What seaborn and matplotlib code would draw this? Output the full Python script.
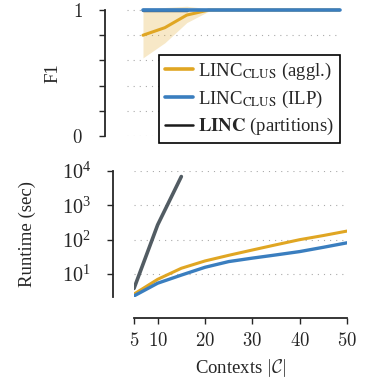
import numpy as np
import pandas as pd
import matplotlib
matplotlib.use("Agg")
import matplotlib.pyplot as plt
import seaborn as sns
from matplotlib.lines import Line2D

# data
contexts = [5, 10, 15, 20, 25, 30, 35, 40, 45, 50]
partition_contexts = [5, 10, 15]

f1_aggl = [0.80, 0.86, 0.96, 1.0, 1.0, 1.0, 1.0, 1.0, 1.0, 1.0]
f1_aggl_lo = [0.62, 0.74, 0.90, 0.99, 1.0, 1.0, 1.0, 1.0, 1.0, 1.0]
f1_aggl_hi = [1.0, 1.02, 1.03, 1.01, 1.0, 1.0, 1.0, 1.0, 1.0, 1.0]
f1_ilp = [1.0] * 10
f1_part = [1.0, 1.0, 1.0]

rt_aggl = [2.6, 7.0, 14.7, 24, 35, 50, 71, 100, 132, 178]
rt_ilp = [2.3, 5.4, 9.3, 15.7, 23, 29, 36, 45, 60, 81]
rt_part = [3.8, 270, 6900]

x_ticks = [5, 10, 20, 30, 40, 50]
f1_ticks = [0, 0.2, 0.4, 0.6, 0.8, 1.0]
f1_tick_labels = ["$0$", "", "", "", "", "$1$"]

c_aggl = "#E0A623"
c_ilp = "#3A7EBF"
c_part = "#525C63"

sns.set_style("ticks")
plt.rcParams["font.family"] = ["Liberation Serif", "DejaVu Serif"]
plt.rcParams["mathtext.fontset"] = "stix"
plt.rcParams["font.size"] = 13

W, H = 365, 382
fig = plt.figure(figsize=(W / 100, H / 100), dpi=100)


def px_axes(left, right, top, bottom):
    return fig.add_axes([left / W, 1 - bottom / H, (right - left) / W, (bottom - top) / H])


grid_kw = dict(ls=(0, (1, 4.5)), color="#aaaaaa", lw=0.8)

# ---- F1 panel
ax1 = px_axes(127, 340, 5, 136)
df_f1 = pd.DataFrame({"x": contexts, "aggl": f1_aggl, "ilp": f1_ilp})
ax1.fill_between(contexts, f1_aggl_lo, f1_aggl_hi, color=c_aggl, alpha=0.25, lw=0)
sns.lineplot(x=partition_contexts, y=f1_part, ax=ax1, color=c_part, lw=2.5)
sns.lineplot(data=df_f1, x="x", y="aggl", ax=ax1, color=c_aggl, lw=2.2)
sns.lineplot(data=df_f1, x="x", y="ilp", ax=ax1, color=c_ilp, lw=2.6, clip_on=False)
ax1.set_xlim(1.35, 50)
ax1.set_ylim(0, 1.04)
ax1.set_yticks(f1_ticks)
ax1.set_yticklabels(f1_tick_labels)
ax1.set_xticks([])
ax1.set_xlabel("")
ax1.set_ylabel("F1", fontsize=13.5)
ax1.yaxis.set_label_coords(-0.31, 0.48)
for s in ["top", "right", "bottom"]:
    ax1.spines[s].set_visible(False)
ax1.spines["left"].set_position(("outward", 16))
ax1.spines["left"].set_bounds(0, 1)
ax1.spines["left"].set_linewidth(1.3)
ax1.tick_params(axis="y", length=4, width=1, pad=12, labelsize=13.5)
for t in ax1.get_yticklabels():
    t.set_math_fontfamily("cm")
ax1.grid(axis="y", **grid_kw)

handles = [
    Line2D([], [], color=c_aggl, lw=2.6),
    Line2D([], [], color=c_ilp, lw=2.6),
    Line2D([], [], color="#1a1a1a", lw=1.8),
]
labels = [
    r"LINC$_{\mathrm{CLUS}}$ (aggl.)",
    r"LINC$_{\mathrm{CLUS}}$ (ILP)",
    r"$\mathbf{LINC}$ (partitions)",
]
leg = ax1.legend(
    handles, labels, loc="lower right",
    bbox_to_anchor=(340 / W, 1 - 143 / H), bbox_transform=fig.transFigure,
    borderaxespad=0, fancybox=False, framealpha=1, edgecolor="black",
    fontsize=13.5, handlelength=1.5, handletextpad=0.3, labelspacing=0.35,
    borderpad=0.3,
)
leg.get_frame().set_linewidth(1.2)

# ---- runtime panel
ax2 = px_axes(134, 347, 171, 297)
df_rt = pd.DataFrame({"x": contexts, "aggl": rt_aggl, "ilp": rt_ilp})
sns.lineplot(x=partition_contexts, y=rt_part, ax=ax2, color=c_part, lw=2.6)
sns.lineplot(data=df_rt, x="x", y="aggl", ax=ax2, color=c_aggl, lw=2.2)
sns.lineplot(data=df_rt, x="x", y="ilp", ax=ax2, color=c_ilp, lw=2.4)
ax2.set_yscale("log")
ax2.set_xlim(5, 50)
ax2.set_ylim(2.14, 1e4)
ax2.set_yticks([10, 100, 1000, 10000])
ax2.set_xticks(x_ticks)
ax2.set_xticklabels([f"${v}$" for v in x_ticks])
ax2.set_ylabel("Runtime (sec)", fontsize=13.5)
ax2.yaxis.set_label_coords(-0.46, 0.5)
ax2.set_xlabel(r"Contexts $|\mathcal{C}|$", labelpad=5, fontsize=13.5)
for s in ["top", "right"]:
    ax2.spines[s].set_visible(False)
ax2.spines["left"].set_position(("outward", 15))
ax2.spines["bottom"].set_position(("outward", 15))
ax2.spines["left"].set_linewidth(1.3)
ax2.spines["bottom"].set_linewidth(1.3)
ax2.tick_params(axis="y", which="major", length=4, width=1, pad=12, labelsize=14.5)
ax2.tick_params(axis="y", which="minor", length=3, width=0.7)
ax2.tick_params(axis="x", length=4, width=1, pad=6, labelsize=13.5)
for t in ax2.get_yticklabels() + ax2.get_xticklabels():
    t.set_math_fontfamily("cm")
ax2.xaxis.label.set_math_fontfamily("cm")
ax2.grid(axis="y", which="major", **grid_kw)

fig.savefig("out.png", dpi=100)
